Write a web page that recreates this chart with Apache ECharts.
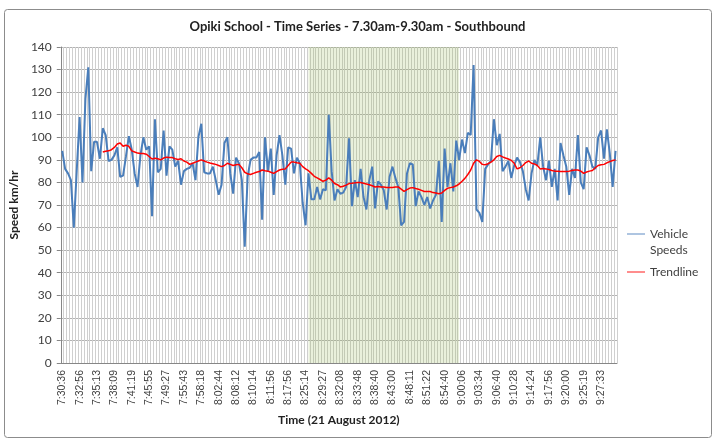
<!DOCTYPE html>
<html>
<head>
<meta charset="utf-8">
<script src="https://cdn.jsdelivr.net/npm/echarts@6/dist/echarts.min.js"></script>
<style>
  html, body { margin: 0; padding: 0; background: #fff; }
  #chart { width: 715px; height: 446px; }
</style>
</head>
<body>
<div id="chart"></div>
<script>
// labels shown on the time axis (one every 6 readings)
const tickLabels = [
  '7:30:36', '7:32:56', '7:35:13', '7:38:09', '7:41:19', '7:45:55', '7:49:27', '7:55:43',
  '7:58:18', '8:02:44', '8:08:12', '8:10:14', '8:11:56', '8:17:56', '8:25:14', '8:29:27',
  '8:32:08', '8:33:48', '8:38:40', '8:43:00', '8:48:11', '8:51:22', '8:54:40', '9:00:06',
  '9:03:34', '9:06:40', '9:10:28', '9:14:24', '9:17:56', '9:20:00', '9:25:19', '9:27:33'
];

// vehicle speeds, km/hr
const speeds = [
  94, 86, 84, 81, 60, 85, 109, 80, 117, 131,
  85, 98, 98, 90.5, 104, 101, 89.5, 90, 92, 95.5,
  82.5, 83, 91.5, 100.5, 94.5, 84, 78, 92, 100, 94.5,
  96, 65, 108, 84.5, 86, 103, 83, 96, 94.5, 87,
  89.5, 79, 85, 86, 86.5, 88.5, 81, 100, 106, 84.5,
  84, 84, 87, 81, 74.5, 79, 97.5, 100, 84, 75,
  91, 88.5, 81, 51.5, 82.5, 90, 91, 91, 93.5, 63.5,
  100, 85, 95, 74.5, 92, 101, 92, 79, 95.5, 95,
  84, 91, 88.5, 71, 61, 84, 72.5, 72.5, 78, 72.5,
  77, 76.5, 110, 85, 72, 77, 75, 75.5, 78, 99.5,
  69.5, 81, 73.5, 86, 73.5, 68, 81, 87, 68.5, 80.5,
  79, 76.5, 68, 82.5, 87, 82, 78, 61, 62.5, 84,
  88.5, 88, 69.5, 76, 73.5, 70, 73.5, 68.5, 72, 74.5,
  89.5, 62.5, 95, 78, 88.5, 76, 98.5, 90, 99, 93,
  102, 101, 132, 68, 66.5, 62.5, 86, 88, 89.5, 108,
  96.5, 101.5, 85, 87, 89.5, 82, 87.5, 91, 89, 85,
  77, 72, 84, 90, 87.5, 100, 87, 81, 89.5, 78,
  86, 72, 97.5, 92, 87, 74.5, 86, 82, 101, 80,
  77, 95.5, 92, 87, 86, 100, 103, 90.5, 103.5, 93,
  78, 94
];

// moving-average trendline as drawn (starts at the 15th reading)
const trend = [
  null, null, null, null, null, null, null, null, null, null, null, null, null, null,
  93.5, 93.8, 94, 94.5, 95.5, 97, 97.5, 96, 96.5, 96,
  94, 93.5, 93, 92.8, 92.8, 92.5, 91.5, 90.4, 90.7, 90.5,
  90, 90.8, 91.2, 91, 91, 90.5, 90.2, 90.5, 89.5, 89,
  88, 88.5, 89, 89.5, 90, 89.5, 89, 88.6, 88.3, 88,
  87.5, 87, 87.5, 88.5, 88, 87.5, 87.8, 88, 86.5, 84.5,
  83.8, 83.5, 84, 84.5, 84.8, 85.5, 85.2, 85, 84.5, 84,
  84.8, 85.5, 85.8, 86, 87.5, 89, 89, 88.7, 88.5, 87,
  86, 85.2, 84, 82.7, 82, 81.3, 80.5, 81, 82, 81,
  79.5, 79, 78, 78.3, 78.8, 79.5, 79.6, 79.8, 80, 80,
  79.6, 79.3, 79, 78.5, 78, 78.2, 78, 78, 77.8, 77.7,
  77.8, 78, 78, 77, 76, 76.8, 77.5, 77.7, 77.3, 77,
  76.5, 76, 76, 76, 75.5, 75.3, 75, 75.3, 76.5, 77.4,
  77.7, 78, 78.5, 79.3, 80.5, 81.8, 83.5, 85.5, 88.5, 90,
  89.3, 88, 87.8, 88.3, 89, 90, 91.5, 92, 91.3, 90.8,
  90.4, 89.8, 88.5, 86, 86.5, 87.5, 88.8, 89.5, 88.5, 88.2,
  87.5, 86, 86.2, 86, 85.7, 85.3, 85, 84.9, 84.8, 84.8,
  84.8, 85, 85.3, 85.5, 85.5, 85, 84, 84.6, 85, 85.3,
  86.5, 87.5, 87.8, 88, 88.7, 89.2, 89.7, 90
];

// shaded school-zone period, first and last reading index
const zoneFrom = 85;
const zoneTo = 137;

function toSec(t) {
  const p = t.split(':').map(Number);
  return p[0] * 3600 + p[1] * 60 + p[2];
}
function toTime(s) {
  const h = Math.floor(s / 3600), m = Math.floor(s / 60) % 60, x = s % 60;
  return h + ':' + String(m).padStart(2, '0') + ':' + String(x).padStart(2, '0');
}

// one category per reading; unlabelled ones get an approximate time
const times = speeds.map((v, i) => {
  const k = Math.floor(i / 6), r = i % 6;
  if (r === 0) return tickLabels[k];
  const a = toSec(tickLabels[k]);
  const b = k + 1 < tickLabels.length ? toSec(tickLabels[k + 1]) : a + 150;
  return toTime(a + Math.round((b - a) * r / 6));
});

const txt = '#404040';
const legendText = { fontFamily: 'Lato', fontSize: 12, color: txt, lineHeight: 16 };
const chart = echarts.init(document.getElementById('chart'), null, { renderer: 'canvas' });

chart.setOption({
  animation: false,
  backgroundColor: '#fff',
  title: {
    text: 'Opiki School - Time Series - 7.30am-9.30am - Southbound',
    left: 'center',
    top: 15,
    textStyle: { fontFamily: 'Lato', fontSize: 13, fontWeight: 'bold', color: '#222' }
  },
  grid: { left: 60, right: 98, top: 47, bottom: 83 },
  legend: [
    {
      // blank first line keeps the icon level with "Vehicle"
      left: 627,
      top: 210,
      padding: 0,
      itemWidth: 18,
      itemHeight: 8,
      icon: 'path://M0,3.5L20,3.5L20,4.5L0,4.5Z',
      formatter: () => '\u00a0\nVehicle\nSpeeds',
      textStyle: legendText,
      data: ['Vehicle Speeds']
    },
    {
      left: 627,
      top: 264,
      padding: 0,
      itemWidth: 18,
      itemHeight: 8,
      icon: 'path://M0,3.5L20,3.5L20,4.5L0,4.5Z',
      textStyle: legendText,
      data: ['Trendline']
    }
  ],
  xAxis: {
    type: 'category',
    data: times,
    boundaryGap: true,
    name: 'Time (21 August 2012)',
    nameLocation: 'middle',
    nameGap: 51,
    nameTextStyle: { fontFamily: 'Lato', fontSize: 12, fontWeight: 'bold', color: '#222' },
    axisLine: { lineStyle: { color: '#868686' } },
    axisTick: { interval: 0, length: 3, lineStyle: { color: '#868686' } },
    axisLabel: {
      interval: 5,
      rotate: 90,
      margin: 7,
      fontFamily: 'Liberation Sans',
      fontSize: 10.5,
      color: txt
    },
    splitLine: { show: true, interval: 0, lineStyle: { color: '#cfcfcf', width: 1 } }
  },
  yAxis: {
    type: 'value',
    min: 0,
    max: 140,
    interval: 10,
    name: 'Speed km/hr',
    nameLocation: 'middle',
    nameGap: 33,
    nameTextStyle: { fontFamily: 'Lato', fontSize: 12, fontWeight: 'bold', color: '#222' },
    axisLine: { show: true, lineStyle: { color: '#868686' } },
    axisTick: { show: true, length: 4, lineStyle: { color: '#868686' } },
    axisLabel: { fontFamily: 'Lato', fontSize: 12, color: txt, margin: 9 },
    splitLine: { lineStyle: { color: '#b3b3b3' } }
  },
  graphic: [{
    type: 'rect',
    shape: { x: 4.5, y: 9.5, width: 707, height: 428, r: 3 },
    style: { fill: 'none', stroke: '#8c8c8c', lineWidth: 1 },
    silent: true
  }],
  series: [
    {
      name: 'Vehicle Speeds',
      type: 'line',
      data: speeds,
      symbol: 'none',
      lineStyle: { color: '#4a7ebb', width: 2 },
      itemStyle: { color: '#4a7ebb' },
      markArea: {
        silent: true,
        itemStyle: { color: 'rgba(155, 187, 89, 0.22)' },
        data: [[{ xAxis: times[zoneFrom] }, { xAxis: times[zoneTo] }]]
      },
      z: 3
    },
    {
      name: 'Trendline',
      type: 'line',
      data: trend,
      symbol: 'none',
      lineStyle: { color: '#ff0000', width: 1.5 },
      itemStyle: { color: '#ff0000' },
      z: 4
    }
  ]
});
</script>
</body>
</html>
